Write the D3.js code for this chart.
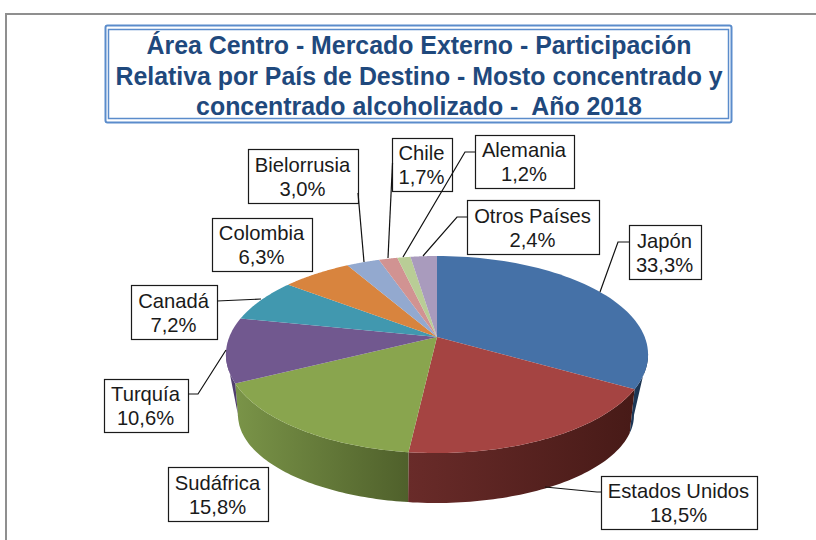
<!DOCTYPE html>
<html lang="es">
<head>
    <meta charset="UTF-8">
    <title>Participación por País de Destino</title>
    <style>
        html, body { margin: 0; padding: 0; background: #fff; }
        svg { display: block; }
        text { font-family: "Liberation Sans", Arial, sans-serif; }
    </style>
</head>
<body>
<div id="chart"></div>
<script src="https://d3js.org/d3.v7.min.js"></script>
<script>
    const countries = ["Japón", "Estados Unidos", "Sudáfrica", "Turquía", "Canadá", "Colombia", "Bielorrusia", "Chile", "Alemania", "Otros Países"];
    const shares = [33.3, 18.5, 15.8, 10.6, 7.2, 6.3, 3.0, 1.7, 1.2, 2.4];
    const titleLines = ["Área Centro - Mercado Externo - Participación", "Relativa por País de Destino - Mosto concentrado y", "concentrado alcoholizado -  Año 2018"];

    const topColors = ["#4571a7", "#a54442", "#89a54e", "#71588f", "#4198af", "#d8843e", "#93a9cf", "#d19392", "#b9cd96", "#a99bbd"];
    const sideLeft = ["#1d3857", "#692b29", "#7a9448", "#5f4a82", "#2f7186", "#a8622b", "#6f83a8", "#a56f6e", "#8fa06f", "#807396"];
    const sideRight = ["#172c47", "#471a17", "#4f602b", "#4f3d6c", "#2f7186", "#a8622b", "#6f83a8", "#a56f6e", "#8fa06f", "#807396"];

    // label box [x0, y0, x1, y1] and leader polyline, same order as countries
    const boxes = [[629, 225, 701, 279], [601, 476, 757, 529], [168, 467, 268, 521], [104, 379, 188, 432], [131, 285, 217, 339],
        [212, 218, 312, 271], [248, 149, 358, 203], [392, 138, 452, 191], [475, 135, 574, 188], [467, 200, 599, 254]];
    const leaders = [
        [[629, 242], [618, 242], [600, 292]],
        [[601, 492], [597, 492], [545, 487]],
        null,
        [[188, 394], [198, 394], [226, 350]],
        [[217, 301], [261, 299]],
        null,
        [[358, 193], [364, 262]],
        [[392.5, 163], [388, 258]],
        [[475, 152], [465, 152], [403, 257]],
        [[467, 217], [457, 217], [423, 256]]
    ];

    const width = 816, height = 540;
    // perspective disc: apex of the pie and circle radii before foreshortening
    const pie3d = {cx: 437, cy: 337, rx: 207.7, ry: 95.4, k: 0.178};
    // lower rim is a smaller ellipse, the wall only shows between the two widest points
    const rim = {cx: 436, cy: 415, rx: 198, ry: 88, shrink: 0.98, from: 100 * Math.PI / 180, to: 260 * Math.PI / 180};

    function topPoint(angle) {
        const u = Math.sin(angle), v = -Math.cos(angle);
        const s = 1 / (1 - pie3d.k * v);
        return [pie3d.cx + pie3d.rx * u * s, pie3d.cy + pie3d.ry * v * s];
    }
    function bottomPoint(angle) {
        const dx = (topPoint(angle)[0] - pie3d.cx) * rim.shrink;
        const t = Math.max(-1, Math.min(1, dx / rim.rx));
        return [rim.cx + rim.rx * t, rim.cy + rim.ry * Math.sqrt(1 - t * t)];
    }
    function arcAngles(start, end) {
        const step = d3.scaleLinear().domain([0, 60]).range([start, end]);
        return d3.range(61).map(step);
    }

    const color = d3.scaleOrdinal(countries, topColors);
    const percent = d3.formatLocale({decimal: ",", thousands: ".", grouping: [3], currency: ["", ""]}).format(".1f");
    const line = d3.line();
    const slices = d3.pie().sort(null).value((d, i) => shares[i])(countries);

    const svg = d3.select("#chart").append("svg").attr("width", width).attr("height", height);
    const defs = svg.append("defs");

    // chart frame, runs off the right and bottom of the picture
    svg.append("path")
        .attr("d", "M6,540V14H816")
        .style("fill", "none").style("stroke", "#8f8f8f").style("stroke-width", 2);

    // title
    const title = svg.append("g").classed("title", true);
    title.append("rect").attr("x", 105.5).attr("y", 25.5).attr("width", 626).attr("height", 97).attr("rx", 2)
        .style("fill", "none").style("stroke", "#5b8ccb").style("stroke-width", 2);
    title.append("rect").attr("x", 108.5).attr("y", 29.5).attr("width", 620).attr("height", 89)
        .style("fill", "none").style("stroke", "#5b8ccb").style("stroke-width", 1.5);
    title.selectAll("text")
        .data(titleLines)
        .join("text")
        .attr("x", 419)
        .attr("y", (d, i) => 54 + i * 30.5)
        .attr("text-anchor", "middle")
        .style("font-size", "24.9px").style("font-weight", "bold").style("fill", "#1f497d")
        .style("white-space", "pre")
        .text(d => d);

    // outer wall, only the slices that reach the front half
    const wallSlices = slices
        .map((d, i) => ({i: i, start: Math.max(d.startAngle, rim.from), end: Math.min(d.endAngle, rim.to)}))
        .filter(d => d.end > d.start);
    wallSlices.forEach(d => {
        const xs = arcAngles(d.start, d.end).map(a => topPoint(a)[0]);
        defs.append("linearGradient")
            .attr("id", "wall" + d.i)
            .attr("gradientUnits", "userSpaceOnUse")
            .attr("x1", d3.min(xs)).attr("x2", d3.max(xs)).attr("y1", 0).attr("y2", 0)
            .call(g => g.append("stop").attr("offset", 0).attr("stop-color", sideLeft[d.i]))
            .call(g => g.append("stop").attr("offset", 1).attr("stop-color", sideRight[d.i]));
    });
    svg.append("g").classed("walls", true)
        .selectAll("path")
        .data(wallSlices)
        .join("path")
        .attr("d", d => {
            const angles = arcAngles(d.start, d.end);
            return line(angles.map(topPoint).concat(angles.slice().reverse().map(bottomPoint))) + "Z";
        })
        .style("fill", d => `url(#wall${d.i})`);

    // top face
    svg.append("g").classed("faces", true)
        .selectAll("path")
        .data(slices)
        .join("path")
        .attr("d", d => line([[pie3d.cx, pie3d.cy]].concat(arcAngles(d.startAngle, d.endAngle).map(topPoint))) + "Z")
        .style("fill", d => color(d.data));

    // leaders go above the boxes, the Alemania one crosses the Chile box
    const labels = svg.append("g").classed("labels", true);
    const label = labels.selectAll("g")
        .data(countries)
        .join("g");
    label.append("rect")
        .attr("x", (d, i) => boxes[i][0] + 0.5)
        .attr("y", (d, i) => boxes[i][1] + 0.5)
        .attr("width", (d, i) => boxes[i][2] - boxes[i][0])
        .attr("height", (d, i) => boxes[i][3] - boxes[i][1])
        .style("fill", "#fff").style("stroke", "#1a1a1a").style("stroke-width", 1.2);
    label.append("text")
        .attr("x", (d, i) => (boxes[i][0] + boxes[i][2]) / 2 - 0.5)
        .attr("y", (d, i) => (boxes[i][1] + boxes[i][3]) / 2 - 4.5)
        .attr("text-anchor", "middle")
        .style("font-size", "20.2px").style("fill", "#1a1a1a")
        .text(d => d);
    label.append("text")
        .attr("x", (d, i) => (boxes[i][0] + boxes[i][2]) / 2 - 0.5)
        .attr("y", (d, i) => (boxes[i][1] + boxes[i][3]) / 2 + 19.5)
        .attr("text-anchor", "middle")
        .style("font-size", "20.2px").style("fill", "#1a1a1a")
        .text((d, i) => percent(shares[i]) + "%");

    labels.selectAll("path.leader")
        .data(leaders.filter(d => d))
        .join("path")
        .classed("leader", true)
        .attr("d", d => line(d))
        .style("fill", "none").style("stroke", "#111").style("stroke-width", 1.2);
</script>
</body>
</html>
